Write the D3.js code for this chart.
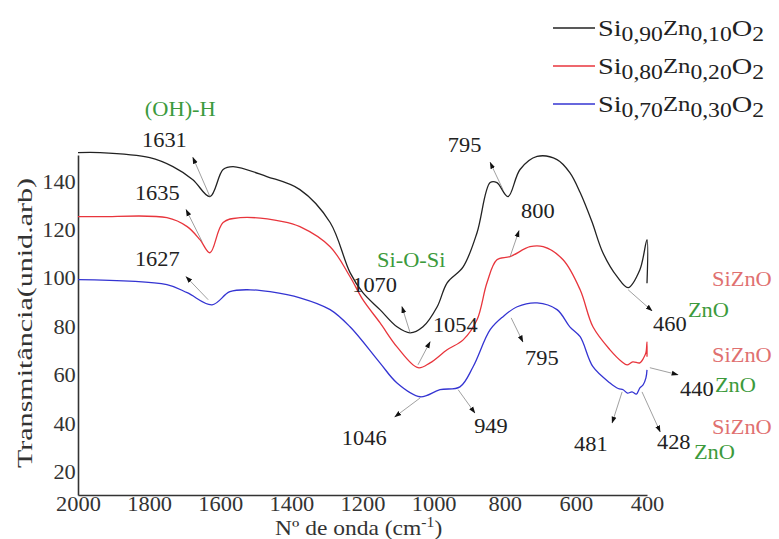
<!DOCTYPE html>
<html><head><meta charset="utf-8">
<script src="https://cdn.jsdelivr.net/npm/d3@7"></script>
<style>html,body{margin:0;padding:0;background:#fff}svg{display:block}</style>
</head><body>
<svg id="c" width="779" height="539"></svg>
<script>
// ---------- data ----------
const xTicks = [2000,1800,1600,1400,1200,1000,800,600,400];
const yTicks = [20,40,60,80,100,120,140];

const blackWn = [2000,1938,1798,1733,1677,1629,1592,1564,1469,1376,1291,1235,1199,1151,1103,1066,1030,990,962,917,878,841,822,791,757,709,653,617,588,555,524,484,453,420,400,400];
const blackT  = [152,152,149.9,146.2,140.8,133.8,145,146.2,142.1,136.7,123.1,102.4,94.1,87.1,80,77.5,80,88.3,98.2,104.8,118.9,139.6,139.6,133.8,145,150.4,149.1,143.7,135.5,123.5,110.6,100.7,96.2,103.6,116,98];

const redWn = [2000,1938,1750,1693,1657,1629,1592,1544,1424,1376,1291,1235,1199,1151,1103,1044,1010,962,917,878,850,822,785,729,692,636,588,552,504,470,456,440,420,410,403,400,400];
const redT  = [125.5,125.5,125.1,121.4,116,110.6,123.1,125.1,123.5,121.4,113.1,100.7,91.2,81.7,71.7,63.1,65.1,70.5,74.6,82.9,98.2,107.7,109,113.1,113.1,107.7,95.3,80,70.5,65.5,64.3,65.5,65.1,67,69.3,73.8,67.6];

const blueWn = [2000,1750,1693,1623,1573,1516,1460,1376,1291,1235,1151,1103,1038,982,926,889,841,805,765,709,653,617,588,552,504,481,467,455,442,430,420,411,403,400];
const blueT  = [99.5,97.4,94.1,89.1,94.5,95.3,94.5,92,87.1,80,65.1,56.8,51.1,54,55.2,63.5,78.8,84.2,88.3,89.9,87.1,80,75.9,63.5,56.8,54.5,54,52.6,53.1,52.2,54.8,56,58.9,62.2];

const seriesNames = ["Si|0,90|Zn|0,10|O|2","Si|0,80|Zn|0,20|O|2","Si|0,70|Zn|0,30|O|2"];
const seriesColors = ["#222222","#e8353c","#3434d2"];

// annotation labels
const labelText = ["(OH)-H","1631","1635","1627","795","800","Si-O-Si","1070","1054","795","949","1046","481","428","ZnO","SiZnO","440","ZnO","SiZnO","460","ZnO","SiZnO"];
const labelWn   = [1812,1820,1840,1840,960,754,1159,1229,1002,743,886,1258,605,372,268,217,307,209,217,383,285,217];
const labelT    = [167.3,154.5,132.6,105.3,152.4,125.1,104.8,94.5,77.9,64.3,36.2,31.2,28.7,29.5,25.4,35.7,51.5,53.1,65.5,78.4,84.2,97.0];
const labelKind = ["g","k","k","k","k","k","g","k","k","k","k","k","k","k","g","r","k","g","r","k","g","r"];

// arrows: tail (on curve) -> head
const arrowTailWn = [1629,1651,1634,805,785,1066,1044,782,931,1038,470,414,392,453];
const arrowTailT  = [133.8,115.2,91.2,136.7,109,77.5,64.3,83.7,54,50.6,53.1,53.1,63.1,95.3];
const arrowHeadWn = [1677,1696,1696,841,760,1089,1010,749,884,1109,498,363,313,386];
const arrowHeadT  = [150,128.4,100.7,147.9,119.7,88.3,73.8,73.8,44.4,42.8,40.3,36.6,60.2,86.6];

// ---------- drawing ----------
const FONT = "'Liberation Serif'";
const SX = 1.12;
const kindColor = {k:"#222", g:"#3c9a3c", r:"#e07070"};

const svg = d3.select("#c");
const x = d3.scaleLinear().domain([2000,400]).range([78,647]);
const y = d3.scaleLinear().domain([10.5,151]).range([495,155]);

// axes
const gx = svg.append("g").attr("transform","translate(0,495)")
  .call(d3.axisBottom(x).tickValues(xTicks).tickSize(0).tickPadding(2).tickFormat(d3.format("d")));
const gy = svg.append("g").attr("transform","translate(78,0)")
  .call(d3.axisLeft(y).tickValues(yTicks).tickSize(0).tickPadding(2).tickFormat(d3.format("d")));
[gx,gy].forEach(g=>{
  g.attr("font-family",null).attr("font-size",null);
  g.select(".domain").attr("stroke","#333").attr("stroke-width",1.6);
  g.selectAll("text").attr("font-size",20).attr("fill","#333")
    .attr("transform",`scale(${SX},1)`);
});

// series
const line = d3.line().x(d=>x(d[0])).y(d=>y(d[1])).curve(d3.curveCatmullRom.alpha(0.5));
const series = [[blackWn,blackT],[redWn,redT],[blueWn,blueT]];
series.forEach((s,i)=>{
  const pts = s[0].map((w,j)=>[w,s[1][j]]);
  svg.append("path").datum(pts).attr("d",line).attr("fill","none")
    .attr("stroke",seriesColors[i]).attr("stroke-width",1.3);
});

// arrows
const defs = svg.append("defs");
defs.append("marker").attr("id","ah").attr("viewBox","0 0 10 10").attr("refX",9).attr("refY",5)
  .attr("markerWidth",7).attr("markerHeight",7).attr("orient","auto-start-reverse")
  .attr("markerUnits","userSpaceOnUse")
  .append("path").attr("d","M0,1.5 L10,5 L0,8.5 Z").attr("fill","#111");
arrowTailWn.forEach((w,i)=>{
  svg.append("line").attr("x1",x(w)).attr("y1",y(arrowTailT[i]))
    .attr("x2",x(arrowHeadWn[i])).attr("y2",y(arrowHeadT[i]))
    .attr("stroke","#888").attr("stroke-width",0.8).attr("marker-end","url(#ah)");
});

// labels
labelText.forEach((t,i)=>{
  svg.append("text").attr("transform",`translate(${x(labelWn[i])},${y(labelT[i])}) scale(${SX},1)`)
    .attr("font-size",20).attr("fill",kindColor[labelKind[i]]).text(t);
});

// axis titles
svg.append("text").attr("transform","translate(32,323) rotate(-90)")
  .attr("text-anchor","middle").attr("font-size",21).attr("fill","#333")
  .attr("textLength",290).attr("lengthAdjust","spacingAndGlyphs")
  .text("Transmitância(unid.arb)");
const xt = svg.append("text").attr("transform","translate(275,535) scale(1.12,1)")
  .attr("font-size",21).attr("fill","#333");
xt.append("tspan").text("Nº de onda (cm");
xt.append("tspan").attr("font-size",14).attr("dy",-8).text("-1");
xt.append("tspan").attr("dy",8).text(")");

// legend
seriesNames.forEach((nm,i)=>{
  const ly = 28 + i*38;
  svg.append("line").attr("x1",553).attr("x2",595).attr("y1",ly).attr("y2",ly)
    .attr("stroke",seriesColors[i]).attr("stroke-width",1.3);
  const parts = nm.split("|");
  const t = svg.append("text").attr("transform",`translate(598,${ly+8}) scale(1.18,1)`)
    .attr("fill","#222");
  let cur = 0;
  parts.forEach((p,k)=>{
    const sub = k%2===1;
    const target = sub ? 5 : (k===2 ? -1 : 0);
    t.append("tspan").attr("font-size", sub?20:(k===2?21:24)).attr("dy",target-cur).text(p);
    cur = target;
  });
});

svg.selectAll("text").style("font-family",FONT);
</script>
</body></html>
